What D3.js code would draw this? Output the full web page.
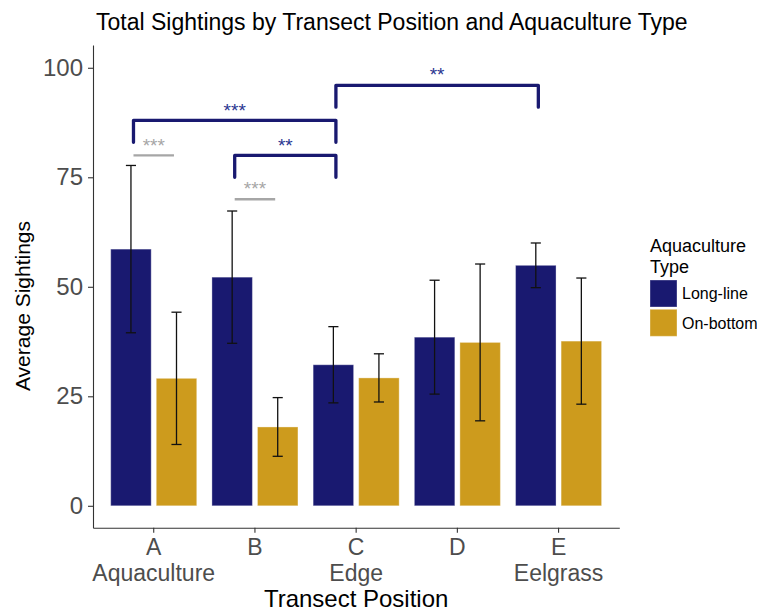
<!DOCTYPE html>
<html>
<head>
<meta charset="utf-8">
<script src="https://cdn.jsdelivr.net/npm/d3@7"></script>
<style>
  body { margin: 0; background: #fff; }
  svg { display: block; font-family: "Liberation Sans", Arial, Helvetica, sans-serif; }
</style>
</head>
<body>
<svg id="chart" width="757" height="612"></svg>
<script>
// Transect positions and their habitat names
const positions = ["A", "B", "C", "D", "E"];
const positionNames = ["Aquaculture", "", "Edge", "", "Eelgrass"];
const types = ["Long-line", "On-bottom"];

// Average sightings and standard errors per aquaculture type
const longLineMean = [58.6, 52.2, 32.2, 38.5, 54.9];
const longLineSE   = [19.1, 15.1, 8.7, 13.0, 5.1];
const onBottomMean = [29.1, 18.0, 29.2, 37.3, 37.6];
const onBottomSE   = [15.1, 6.7, 5.5, 17.9, 14.4];

const yTicks = [0, 25, 50, 75, 100];

// Long-line comparisons between positions (x in category units, A = 1)
const bracketFrom  = [0.8, 1.8, 2.8];
const bracketTo    = [2.8, 2.8, 4.8];
const bracketY     = [88, 80, 96];
const bracketLabel = ["***", "**", "**"];

// Long-line vs On-bottom comparisons within a position
const pairFrom  = [0.8, 1.8];
const pairTo    = [1.2, 2.2];
const pairY     = [80, 70];
const pairLabel = ["***", "***"];

const colors = { "Long-line": "#191970", "On-bottom": "#CD9B1D" };
const bracketColor = "#191970";
const pairColor = "#a6a6a6";

const svg = d3.select("#chart");
const panel = { left: 93, right: 619.3, top: 45, bottom: 527.7 };

const x = d3.scaleBand()
  .domain(positions)
  .range([panel.left, panel.right])
  .paddingInner(0)
  .paddingOuter(0.1);
const step = x.step();
const xUnit = u => x(positions[0]) + step / 2 + (u - 1) * step;
const xSub = d3.scaleBand().domain(types).range([0, 0.9 * step]);
const barW = 0.4 * step;

const y = d3.scaleLinear().domain([-5, 105.2]).range([panel.bottom, panel.top]);

const rows = [];
positions.forEach((p, i) => {
  rows.push({ pos: p, type: types[0], mean: longLineMean[i], se: longLineSE[i] });
  rows.push({ pos: p, type: types[1], mean: onBottomMean[i], se: onBottomSE[i] });
});
const barCenter = d => x(d.pos) + 0.05 * step + xSub(d.type) + xSub.bandwidth() / 2;

// Bars
svg.append("g").selectAll("rect").data(rows).join("rect")
  .attr("x", d => barCenter(d) - barW / 2)
  .attr("width", barW)
  .attr("y", d => y(d.mean))
  .attr("height", d => y(0) - y(d.mean))
  .attr("fill", d => colors[d.type])
  .attr("stroke", "rgba(255,255,255,0.35)")
  .attr("stroke-width", 1);

// Error bars
const eb = svg.append("g").attr("stroke", "#111").attr("stroke-width", 1.3).attr("fill", "none");
const capW = 0.1 * step;
rows.forEach(d => {
  const cx = barCenter(d), y1 = y(d.mean + d.se), y0 = y(d.mean - d.se);
  eb.append("line").attr("x1", cx).attr("x2", cx).attr("y1", y1).attr("y2", y0);
  eb.append("line").attr("x1", cx - capW / 2).attr("x2", cx + capW / 2).attr("y1", y1).attr("y2", y1);
  eb.append("line").attr("x1", cx - capW / 2).attr("x2", cx + capW / 2).attr("y1", y0).attr("y2", y0);
});

// Significance brackets
const starSize = 19;
const starBaseline = v => y(v + 3.3) + starSize * 0.56;
const br = svg.append("g");
bracketFrom.forEach((f, i) => {
  const xa = xUnit(f), xb = xUnit(bracketTo[i]);
  const yt = y(bracketY[i]), yd = y(bracketY[i] - 5);
  br.append("path")
    .attr("d", `M${xa},${yd}V${yt}H${xb}V${yd}`)
    .attr("fill", "none").attr("stroke", bracketColor)
    .attr("stroke-width", 3.3).attr("stroke-linecap", "round").attr("stroke-linejoin", "round");
  br.append("text")
    .attr("x", (xa + xb) / 2).attr("y", starBaseline(bracketY[i]))
    .attr("text-anchor", "middle").attr("font-size", starSize)
    .attr("fill", "#2a3590").text(bracketLabel[i]);
});
pairFrom.forEach((f, i) => {
  const xa = xUnit(f), xb = xUnit(pairTo[i]);
  br.append("line")
    .attr("x1", xa).attr("x2", xb).attr("y1", y(pairY[i])).attr("y2", y(pairY[i]))
    .attr("stroke", pairColor).attr("stroke-width", 2.4);
  br.append("text")
    .attr("x", (xa + xb) / 2).attr("y", starBaseline(pairY[i]))
    .attr("text-anchor", "middle").attr("font-size", starSize)
    .attr("fill", pairColor).text(pairLabel[i]);
});

// Y axis
const yAxis = svg.append("g")
  .attr("transform", `translate(${panel.left},0)`)
  .call(d3.axisLeft(y).tickValues(yTicks).tickSize(5).tickSizeOuter(0).tickPadding(5));
yAxis.select(".domain").attr("stroke", "#333").attr("stroke-width", 1.1);
yAxis.selectAll(".tick line").attr("stroke", "#333").attr("stroke-width", 1.1);
yAxis.selectAll(".tick text").attr("font-size", 24).attr("fill", "#4d4d4d")
  .attr("font-family", "Liberation Sans, Arial, sans-serif");

// X axis with two-line category labels
const xAxis = svg.append("g")
  .attr("transform", `translate(0,${panel.bottom})`)
  .call(d3.axisBottom(x).tickSize(5).tickSizeOuter(0).tickPadding(5));
xAxis.select(".domain").attr("stroke", "#333").attr("stroke-width", 1.1);
xAxis.selectAll(".tick line").attr("stroke", "#333").attr("stroke-width", 1.1);
xAxis.selectAll(".tick text").remove();
xAxis.selectAll(".tick").each(function (p, i) {
  const t = d3.select(this).append("text")
    .attr("text-anchor", "middle").attr("font-size", 23).attr("fill", "#4d4d4d")
    .attr("font-family", "Liberation Sans, Arial, sans-serif");
  t.append("tspan").attr("x", 0).attr("y", 27.5).text(p);
  if (positionNames[i]) t.append("tspan").attr("x", 0).attr("y", 53.2).text(positionNames[i]);
});

// Axis titles
svg.append("text")
  .attr("x", (panel.left + panel.right) / 2).attr("y", 607)
  .attr("text-anchor", "middle").attr("font-size", 24).attr("fill", "#000")
  .text("Transect Position");
svg.append("text")
  .attr("transform", `translate(30,${306}) rotate(-90)`)
  .attr("text-anchor", "middle").attr("font-size", 21).attr("fill", "#000")
  .text("Average Sightings");

// Title
svg.append("text")
  .attr("x", 96).attr("y", 30)
  .attr("font-size", 23).attr("fill", "#000")
  .text("Total Sightings by Transect Position and Aquaculture Type");

// Legend
const lg = svg.append("g").attr("transform", "translate(650,0)");
lg.append("text").attr("y", 252).attr("font-size", 18).text("Aquaculture");
lg.append("text").attr("y", 273).attr("font-size", 18).text("Type");
types.forEach((t, i) => {
  const top = 280 + i * 29.3;
  lg.append("rect").attr("x", 0).attr("y", top).attr("width", 27).attr("height", 27)
    .attr("fill", colors[t]).attr("stroke", "rgba(255,255,255,0.35)");
  lg.append("text").attr("x", 32).attr("y", top + 13.5 + 5.7)
    .attr("font-size", 16).attr("fill", "#000").text(t);
});
</script>
</body>
</html>
